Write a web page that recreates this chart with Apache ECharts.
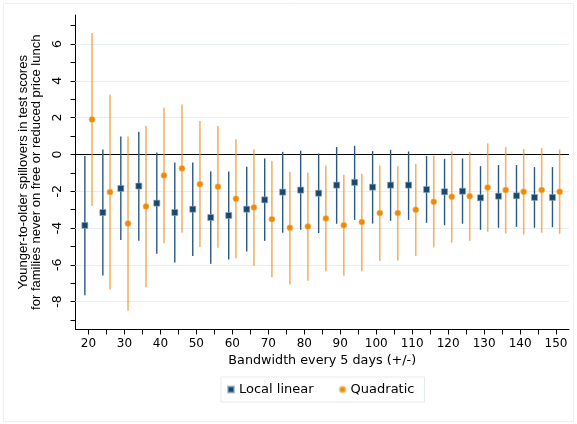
<!DOCTYPE html>
<html><head><meta charset="utf-8">
<script src="https://cdn.jsdelivr.net/npm/echarts@6/dist/echarts.min.js"></script>
<style>html,body{margin:0;padding:0;background:#fff}#c{width:577px;height:424px}</style>
</head><body><div id="c"></div>
<script>
const bandwidth = [20,25,30,35,40,45,50,55,60,65,70,75,80,85,90,95,100,105,110,115,120,125,130,135,140,145,150];
const llEst = [-3.86,-3.16,-1.85,-1.72,-2.65,-3.16,-2.98,-3.43,-3.32,-2.98,-2.47,-2.05,-1.94,-2.11,-1.67,-1.52,-1.78,-1.67,-1.67,-1.91,-2.03,-2.00,-2.36,-2.27,-2.25,-2.34,-2.34];
const llHi  = [-0.08,0.27,0.98,1.23,0.10,-0.44,-0.44,-0.93,-0.93,-0.67,-0.22,0.14,0.20,0.05,0.40,0.47,0.18,0.25,0.16,-0.09,-0.24,-0.22,-0.64,-0.58,-0.58,-0.69,-0.69];
const llLo  = [-7.66,-6.58,-4.66,-4.70,-5.40,-5.88,-5.53,-5.95,-5.71,-5.28,-4.70,-4.26,-4.10,-4.28,-3.77,-3.56,-3.76,-3.61,-3.56,-3.72,-3.85,-3.77,-4.10,-3.99,-3.94,-3.99,-3.96];
const qEst  = [1.90,-2.05,-3.76,-2.83,-1.14,-0.76,-1.62,-1.76,-2.41,-2.88,-3.52,-3.99,-3.92,-3.48,-3.85,-3.68,-3.19,-3.19,-3.01,-2.58,-2.30,-2.27,-1.80,-1.94,-2.03,-1.94,-2.03];
const qHi   = [6.60,3.24,0.98,1.54,2.54,2.72,1.81,1.54,0.82,0.27,-0.36,-0.94,-0.98,-0.60,-1.11,-1.05,-0.60,-0.64,-0.51,-0.07,0.16,0.14,0.60,0.40,0.29,0.34,0.27];
const qLo   = [-2.80,-7.35,-8.50,-7.22,-4.83,-4.26,-5.04,-5.08,-5.64,-6.06,-6.68,-7.08,-6.87,-6.35,-6.60,-6.35,-5.80,-5.77,-5.53,-5.06,-4.79,-4.70,-4.21,-4.30,-4.35,-4.26,-4.32];
const xTickValues = [20,25,30,35,40,45,50,55,60,65,70,75,80,85,90,95,100,105,110,115,120,125,130,135,140,145,150];
const xLabelValues = [20,30,40,50,60,70,80,90,100,110,120,130,140,150];
const yTickValues = [-9,-8,-7,-6,-5,-4,-3,-2,-1,0,1,2,3,4,5,6,7];
const yLabelValues = [-8,-6,-4,-2,0,2,4,6];
const yGridValues = [-8,-6,-4,-2,2,4,6];
const seriesNames = ['Local linear','Quadratic'];

const OFF = 1;
const NAVY = '#1a476f', NAVY_BAR = '#2a5885';
const ORANGE = '#ee8a05', ORANGE_BAR = 'rgba(240,150,40,0.72)';
const FONT_H = 'DejaVu Sans, sans-serif';
const FONT_V = 'Liberation Sans, Arial, sans-serif';

function errBar(color, width, off) {
  return function (params, api) {
    const x = api.value(0) + off;
    const a = api.coord([x, api.value(1)]);
    const b = api.coord([x, api.value(2)]);
    return { type: 'line', shape: { x1: a[0], y1: a[1], x2: b[0], y2: b[1] },
             style: { stroke: color, lineWidth: width } };
  };
}

const chart = echarts.init(document.getElementById('c'));
chart.setOption({
  animation: false,
  backgroundColor: '#fff',
  graphic: [{ type: 'rect', shape: { x: 3.5, y: 3.5, width: 570, height: 418 },
              style: { fill: 'none', stroke: '#edf1f3', lineWidth: 1 }, z: -10 }],
  grid: { left: 75.5, right: 8, top: 15, bottom: 94.5, containLabel: false },
  legend: {
    data: [{ name: seriesNames[0], icon: 'rect' }, { name: seriesNames[1], icon: 'circle' }],
    left: 221, top: 377, padding: [6, 10, 6, 6], itemGap: 25, itemWidth: 6, itemHeight: 6,
    borderColor: '#e3ebee', borderWidth: 1,
    textStyle: { fontSize: 13, color: '#000', fontFamily: FONT_H }
  },
  xAxis: {
    type: 'value', min: 16.4, max: 153.6,
    name: 'Bandwidth every 5 days (+/-)', nameLocation: 'middle', nameGap: 23,
    nameTextStyle: { fontSize: 12.75, color: '#000', fontFamily: FONT_H },
    axisLine: { show: true, onZero: false, lineStyle: { color: '#000', width: 1 } },
    axisTick: { show: true, length: 5, customValues: xTickValues, lineStyle: { color: '#000' } },
    axisLabel: { customValues: xLabelValues, fontSize: 12, color: '#000', margin: 8, fontFamily: FONT_H },
    splitLine: { show: false }
  },
  yAxis: {
    type: 'value', min: -9.52, max: 7.58,
    name: 'Younger-to-older spillovers in test scores\nfor families never on free or reduced price lunch',
    nameLocation: 'middle', nameRotate: 90, nameGap: 23,
    nameTextStyle: { fontSize: 13, color: '#000', lineHeight: 13.5, fontFamily: FONT_V },
    axisLine: { show: true, onZero: false, lineStyle: { color: '#000', width: 1 } },
    axisTick: { show: true, length: 5, customValues: yTickValues, lineStyle: { color: '#000' } },
    axisLabel: { customValues: yLabelValues, rotate: 90, fontSize: 12.5, color: '#000', margin: 11, fontFamily: FONT_H },
    splitLine: { show: false }
  },
  series: [
    {
      type: 'custom', name: 'llBars', renderItem: errBar(NAVY_BAR, 1.4, -OFF),
      data: bandwidth.map((b, i) => [b, llLo[i], llHi[i]]), z: 2,
      encode: { x: 0, y: [1, 2] },
      markLine: {
        silent: true, symbol: 'none', animation: false, z: 1, label: { show: false },
        data: yGridValues.map(v => ({ yAxis: v, lineStyle: { color: '#e6eef1', width: 1.2, type: 'solid' } }))
          .concat([{ yAxis: 0, lineStyle: { color: '#000', width: 1, type: 'solid' } }])
      }
    },
    {
      type: 'custom', name: 'qBars', renderItem: errBar(ORANGE_BAR, 1.6, OFF),
      data: bandwidth.map((b, i) => [b, qLo[i], qHi[i]]), z: 2,
      encode: { x: 0, y: [1, 2] }
    },
    {
      type: 'scatter', name: seriesNames[0], symbol: 'rect', symbolSize: 6, z: 4,
      itemStyle: { color: NAVY, borderColor: 'rgba(140,165,190,0.6)', borderWidth: 1, opacity: 1 },
      data: bandwidth.map((b, i) => [b - OFF, llEst[i]])
    },
    {
      type: 'scatter', name: seriesNames[1], symbol: 'circle', symbolSize: 6, z: 4,
      itemStyle: { color: ORANGE, borderColor: 'rgba(245,185,110,0.6)', borderWidth: 1, opacity: 1 },
      data: bandwidth.map((b, i) => [b + OFF, qEst[i]])
    }
  ]
});
</script></body></html>
